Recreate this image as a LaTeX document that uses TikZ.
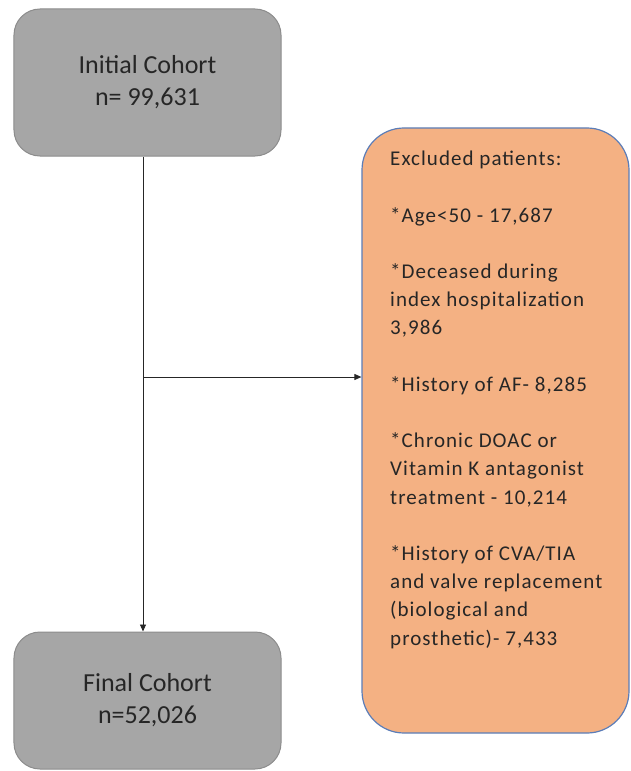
\documentclass[tikz,border=0pt]{standalone}
\usepackage{fontspec}
\setmainfont{Carlito}
\newfontfamily\exclfont[LetterSpace=5]{Carlito}
\usetikzlibrary{arrows.meta}
\definecolor{boxgray}{HTML}{A6A6A6}
\definecolor{grayline}{HTML}{8C8C8C}
\definecolor{orangefill}{HTML}{F4B183}
\definecolor{blueline}{HTML}{5B7DB8}
\definecolor{txt}{HTML}{262626}
\begin{document}
\begin{tikzpicture}[x=1bp,y=-1bp,
  graybox/.style={draw=grayline, line width=1bp, fill=boxgray, rounded corners=26bp,
    minimum width=267bp, inner sep=0pt, align=center,
    font=\fontsize{26bp}{32bp}\selectfont, text=txt},
  orangebox/.style={draw=blueline, line width=1.2bp, fill=orangefill, rounded corners=42bp,
    minimum width=267bp, minimum height=605bp, inner sep=0pt},
  excltext/.style={anchor=north west, inner sep=0pt, align=left, text=txt,
    font=\exclfont\fontsize{21bp}{28.2bp}\selectfont},
  conn/.style={draw=black!85, line width=0.9bp, -{Triangle[length=7bp,width=6bp]}}]
\useasboundingbox (0,0) rectangle (631,771);
\node[graybox, minimum height=147bp] (init) at (147.5,82.5) {Initial Cohort\\ n= 99,631};
\node[graybox, minimum height=137bp] (final) at (147.5,700.5) {Final Cohort\\ n=52,026};
\node[orangebox] (excl) at (495.5,430.5) {};
\node[excltext] (excltxt) at (390,151) {Excluded patients:\\[28.2bp]
*Age<50 - 17,687\\[28.2bp]
*Deceased during\\
index hospitalization\\
3,986\\[28.2bp]
*History of AF- 8,285\\[28.2bp]
*Chronic DOAC or\\
Vitamin K antagonist\\
treatment - 10,214\\[28.2bp]
*History of CVA/TIA\\
and valve replacement\\
(biological and\\
prosthetic)- 7,433};
\coordinate (split) at (143,377);
\draw[conn] (init.south -| split) -- (final.north -| split);
\draw[conn] (split) -- (split -| excl.west);
\end{tikzpicture}
\end{document}
